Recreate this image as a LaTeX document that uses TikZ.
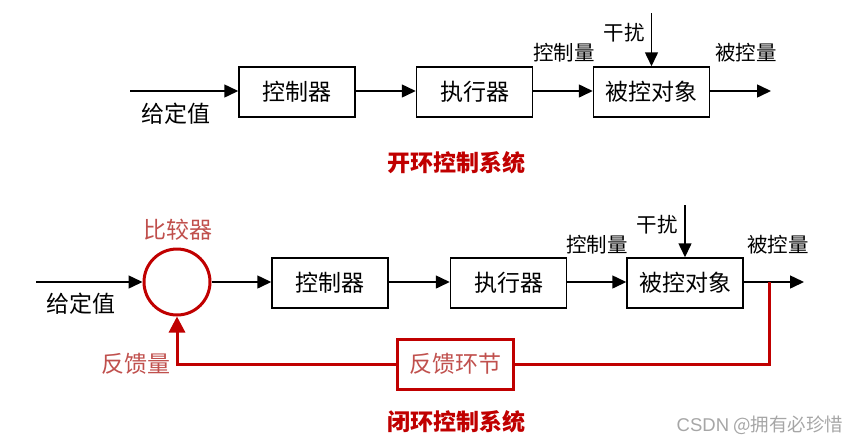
\documentclass[tikz,border=0pt]{standalone}
\usepackage{fontspec}
\setmainfont{Noto Sans CJK SC}
\newfontfamily\lat{Liberation Sans}
\usetikzlibrary{arrows.meta}
\definecolor{dred}{HTML}{C00000}
\definecolor{lred}{HTML}{C0504D}
\tikzset{
  blk/.style={draw, line width=1.5pt, minimum width=116pt, minimum height=50pt, inner sep=0pt, font=\fontsize{23}{23}\selectfont},
  lbl/.style={font=\fontsize{20.5}{20.5}\selectfont, inner sep=0pt},
  big/.style={font=\fontsize{23}{23}\selectfont, inner sep=0pt},
  sig/.style={line width=1.5pt, -{Triangle[length=14pt,width=13pt]}},
  fbl/.style={line width=3pt, draw=dred},
  ttl/.style={font=\fontsize{23}{23}\selectfont\bfseries, text=dred, inner sep=0pt}
}
\begin{document}
\begin{tikzpicture}[x=1pt,y=-1pt]
\useasboundingbox (0,0) rectangle (861,445);
% ---- open loop ----
\coordinate (in1) at (130,91);
\node[blk] (c1) at (297,92) {控制器};
\node[blk] (a1) at (474.5,92) {执行器};
\node[blk] (p1) at (651.5,92) {被控对象};
\coordinate (out1) at (771,91);
\coordinate (d1) at (651.5,13);
\draw[sig] (in1) -- (in1 -| c1.west);
\draw[sig] (c1.east |- in1) -- (a1.west |- in1);
\draw[sig] (a1.east |- in1) -- (p1.west |- in1);
\draw[sig] (p1.east |- in1) -- (out1);
\draw[sig] (d1) -- (p1.north);
\node[big] (g1) at (176,114) {给定值};
\node[lbl] (u1) at (564,53) {控制量};
\node[lbl] (y1) at (746,53) {被控量};
\node[lbl] (n1) at (624,33) {干扰};
\node[ttl] (t1) at (456,163) {开环控制系统};
% ---- closed loop ----
\coordinate (in2) at (36,282);
\node[circle, draw=dred, line width=3pt, minimum size=66pt, inner sep=0pt] (cmp) at (177,282) {};
\node[blk] (c2) at (330,283) {控制器};
\node[blk] (a2) at (508.5,283) {执行器};
\node[blk] (p2) at (685,283) {被控对象};
\coordinate (out2) at (804,282);
\coordinate (d2) at (685,205);
\coordinate (tap) at (769,282);
\node[blk, draw=dred, line width=3pt, text=lred] (fb) at (455,364) {反馈环节};
\draw[sig] (in2) -- (cmp.west);
\draw[sig] (cmp.east) -- (c2.west |- cmp.east);
\draw[sig] (c2.east |- in2) -- (a2.west |- in2);
\draw[sig] (a2.east |- in2) -- (p2.west |- in2);
\draw[sig] (p2.east |- in2) -- (out2);
\draw[sig] (d2) -- (p2.north);
\draw[fbl] (tap) |- (fb.east);
\draw[fbl, -{Triangle[length=16pt,width=16pt]}] (fb.west) -| (cmp.south);
\node[big, text=lred] (cl) at (178,230) {比较器};
\node[big, text=lred] (fq) at (136,364) {反馈量};
\node[big] (g2) at (81,304) {给定值};
\node[lbl] (u2) at (597,245) {控制量};
\node[lbl] (y2) at (778,245) {被控量};
\node[lbl] (n2) at (657,225) {干扰};
\node[ttl] (t2) at (456,422) {闭环控制系统};
\node[font=\fontsize{18.5}{18.5}\selectfont, text=black!35, inner sep=0pt] (wm) at (760,425) {{\lat CSDN} @拥有必珍惜};
\end{tikzpicture}
\end{document}
